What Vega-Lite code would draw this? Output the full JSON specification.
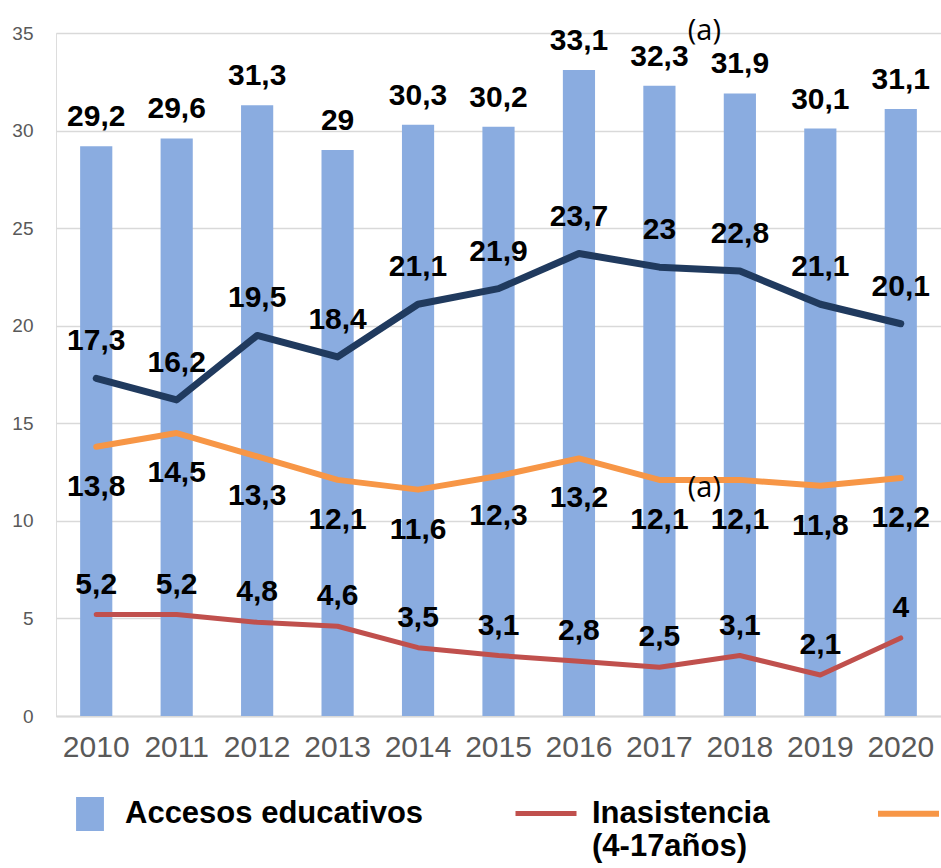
{
  "$schema": "https://vega.github.io/schema/vega-lite/v6.json",
  "width": 885,
  "height": 683,
  "autosize": {"type": "none"},
  "padding": {"left": 56, "top": 33, "right": 0, "bottom": 152},
  "background": "white",
  "data": {
    "values": [
      {"year": "2010", "series": "Accesos educativos", "value": 29.2},
      {"year": "2011", "series": "Accesos educativos", "value": 29.6},
      {"year": "2012", "series": "Accesos educativos", "value": 31.3},
      {"year": "2013", "series": "Accesos educativos", "value": 29},
      {"year": "2014", "series": "Accesos educativos", "value": 30.3},
      {"year": "2015", "series": "Accesos educativos", "value": 30.2},
      {"year": "2016", "series": "Accesos educativos", "value": 33.1},
      {"year": "2017", "series": "Accesos educativos", "value": 32.3},
      {"year": "2018", "series": "Accesos educativos", "value": 31.9},
      {"year": "2019", "series": "Accesos educativos", "value": 30.1},
      {"year": "2020", "series": "Accesos educativos", "value": 31.1},
      {"year": "2010", "series": "Serie 2", "value": 17.3},
      {"year": "2011", "series": "Serie 2", "value": 16.2},
      {"year": "2012", "series": "Serie 2", "value": 19.5},
      {"year": "2013", "series": "Serie 2", "value": 18.4},
      {"year": "2014", "series": "Serie 2", "value": 21.1},
      {"year": "2015", "series": "Serie 2", "value": 21.9},
      {"year": "2016", "series": "Serie 2", "value": 23.7},
      {"year": "2017", "series": "Serie 2", "value": 23},
      {"year": "2018", "series": "Serie 2", "value": 22.8},
      {"year": "2019", "series": "Serie 2", "value": 21.1},
      {"year": "2020", "series": "Serie 2", "value": 20.1},
      {"year": "2010", "series": "Serie 3", "value": 13.8},
      {"year": "2011", "series": "Serie 3", "value": 14.5},
      {"year": "2012", "series": "Serie 3", "value": 13.3},
      {"year": "2013", "series": "Serie 3", "value": 12.1},
      {"year": "2014", "series": "Serie 3", "value": 11.6},
      {"year": "2015", "series": "Serie 3", "value": 12.3},
      {"year": "2016", "series": "Serie 3", "value": 13.2},
      {"year": "2017", "series": "Serie 3", "value": 12.1},
      {"year": "2018", "series": "Serie 3", "value": 12.1},
      {"year": "2019", "series": "Serie 3", "value": 11.8},
      {"year": "2020", "series": "Serie 3", "value": 12.2},
      {"year": "2010", "series": "Inasistencia (4-17años)", "value": 5.2},
      {"year": "2011", "series": "Inasistencia (4-17años)", "value": 5.2},
      {"year": "2012", "series": "Inasistencia (4-17años)", "value": 4.8},
      {"year": "2013", "series": "Inasistencia (4-17años)", "value": 4.6},
      {"year": "2014", "series": "Inasistencia (4-17años)", "value": 3.5},
      {"year": "2015", "series": "Inasistencia (4-17años)", "value": 3.1},
      {"year": "2016", "series": "Inasistencia (4-17años)", "value": 2.8},
      {"year": "2017", "series": "Inasistencia (4-17años)", "value": 2.5},
      {"year": "2018", "series": "Inasistencia (4-17años)", "value": 3.1},
      {"year": "2019", "series": "Inasistencia (4-17años)", "value": 2.1},
      {"year": "2020", "series": "Inasistencia (4-17años)", "value": 4}
    ]
  },
  "transform": [
    {"calculate": "replace(toString(datum.value), '.', ',')", "as": "label"}
  ],
  "layer": [
    {
      "transform": [{"filter": "datum.series == 'Accesos educativos'"}],
      "mark": {"type": "bar"},
      "encoding": {
        "x": {
          "field": "year", "type": "ordinal",
          "scale": {"paddingInner": 0.6, "paddingOuter": 0.3},
          "axis": {
            "title": null, "labelAngle": 0, "ticks": false,
            "domainColor": "#D9D9D9", "domainWidth": 2,
            "labelFontSize": 30, "labelColor": "#595959", "labelFont": "Liberation Sans",
            "labelPadding": 16, "grid": false
          }
        },
        "y": {
          "field": "value", "type": "quantitative",
          "scale": {"domain": [0, 35], "nice": false},
          "axis": {
            "title": null, "domain": false, "ticks": false,
            "values": [0, 5, 10, 15, 20, 25, 30, 35],
            "gridColor": "#D9D9D9", "gridWidth": 1.5,
            "labelFontSize": 19, "labelColor": "#595959", "labelFont": "Liberation Sans",
            "labelPadding": 23
          }
        },
        "fill": {
          "field": "series", "type": "nominal",
          "scale": {"domain": ["Accesos educativos"], "range": ["#8AACE0"]},
          "legend": {
            "orient": "none", "legendX": 17, "legendY": 764, "title": null, "padding": 0,
            "symbolType": "M-0.82,-1H0.82V1H-0.82Z", "symbolSize": 1156, "symbolStrokeWidth": 0,
            "labelFontSize": 31, "labelFontWeight": "bold", "labelFont": "Liberation Sans",
            "labelColor": "black", "labelOffset": 18, "labelLimit": 500
          }
        }
      }
    },
    {
      "transform": [{"filter": "datum.series != 'Accesos educativos'"}],
      "mark": {"type": "line", "strokeCap": "round", "strokeJoin": "round"},
      "encoding": {
        "x": {"field": "year", "type": "ordinal"},
        "y": {"field": "value", "type": "quantitative"},
        "stroke": {
          "field": "series", "type": "nominal",
          "scale": {"domain": ["Inasistencia (4-17años)", "Serie 3", "Serie 2"], "range": ["#C0504D", "#F79646", "#203A5E"]},
          "legend": {
            "orient": "none", "direction": "horizontal", "legendX": 457, "legendY": 747, "title": null, "padding": 0,
            "symbolType": "stroke", "symbolSize": 3721, "symbolStrokeWidth": 4,
            "labelFontSize": 31, "labelFontWeight": "bold", "labelFont": "Liberation Sans",
            "labelColor": "black", "labelOffset": 13, "columnPadding": 96, "labelLimit": 500,
            "labelExpr": "datum.label == 'Inasistencia (4-17años)' ? ['Inasistencia', '(4-17años)'] : [datum.label, ' ']"
          }
        },
        "strokeWidth": {
          "field": "series", "type": "nominal",
          "scale": {"domain": ["Inasistencia (4-17años)", "Serie 3", "Serie 2"], "range": [5, 7, 7]},
          "legend": null
        }
      }
    },
    {
      "transform": [{"filter": "datum.series == 'Accesos educativos'"}],
      "mark": {"type": "text", "dy": -29, "fontSize": 30, "fontWeight": "bold", "font": "Liberation Sans", "color": "black"},
      "encoding": {
        "x": {"field": "year", "type": "ordinal"},
        "y": {"field": "value", "type": "quantitative"},
        "text": {"field": "label"}
      }
    },
    {
      "transform": [{"filter": "datum.series == 'Serie 2'"}],
      "mark": {"type": "text", "dy": -37, "fontSize": 30, "fontWeight": "bold", "font": "Liberation Sans", "color": "black"},
      "encoding": {
        "x": {"field": "year", "type": "ordinal"},
        "y": {"field": "value", "type": "quantitative"},
        "text": {"field": "label"}
      }
    },
    {
      "transform": [{"filter": "datum.series == 'Serie 3'"}],
      "mark": {"type": "text", "dy": 40, "fontSize": 30, "fontWeight": "bold", "font": "Liberation Sans", "color": "black"},
      "encoding": {
        "x": {"field": "year", "type": "ordinal"},
        "y": {"field": "value", "type": "quantitative"},
        "text": {"field": "label"}
      }
    },
    {
      "transform": [{"filter": "datum.series == 'Inasistencia (4-17años)'"}],
      "mark": {"type": "text", "dy": -30, "fontSize": 30, "fontWeight": "bold", "font": "Liberation Sans", "color": "black"},
      "encoding": {
        "x": {"field": "year", "type": "ordinal"},
        "y": {"field": "value", "type": "quantitative"},
        "text": {"field": "label"}
      }
    },
    {
      "data": {"values": [
        {"year": "2017", "value": 35.1, "note": "(a)"},
        {"year": "2017", "value": 11.7, "note": "(a)"}
      ]},
      "mark": {"type": "text", "dx": 45, "fontSize": 29, "font": "Open Sans", "color": "black"},
      "encoding": {
        "x": {"field": "year", "type": "ordinal"},
        "y": {"field": "value", "type": "quantitative"},
        "text": {"field": "note"}
      }
    }
  ]
}
